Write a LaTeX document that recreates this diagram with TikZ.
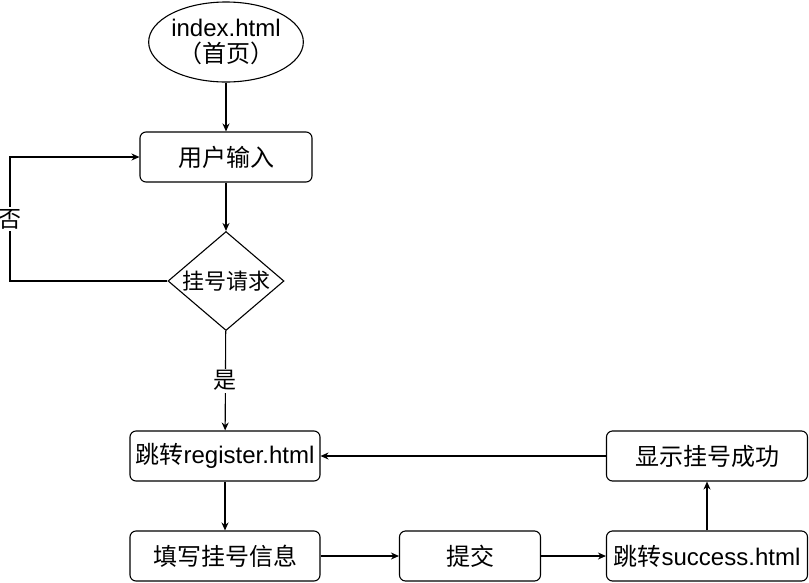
\documentclass[tikz,border=0pt]{standalone}
\usepackage{fontspec}
\setmainfont{Liberation Sans}
\newfontfamily\cjk{Noto Sans CJK SC}
\usetikzlibrary{shapes.geometric, arrows.meta, positioning}

\begin{document}
\begin{tikzpicture}[
    x=1pt, y=-1pt,
    line width=1.1pt,
    >={Stealth[length=8pt,width=7pt]},
    stepbox/.style={
        draw, rectangle, rounded corners=6pt,
        minimum width=#1, minimum height=50pt,
        inner sep=1pt,
        font=\fontsize{24}{28}\selectfont,
    },
    startnode/.style={
        draw, ellipse,
        minimum width=150pt, minimum height=80pt,
        inner sep=0pt, align=center,
        font=\fontsize{24}{26}\selectfont,
    },
    decision/.style={
        draw, diamond, aspect=1.17,
        minimum width=116pt, minimum height=99pt,
        inner sep=0pt,
        font=\fontsize{22}{26}\selectfont\cjk,
    },
    edgelabel/.style={
        fill=white, inner sep=2pt,
        font=\fontsize{23}{27}\selectfont\cjk,
    },
]
\useasboundingbox (0,0) rectangle (809,582);

\node[startnode] (home) at (226,42) {index.html\\{\cjk （首页）}};
\node[stepbox=172pt] (input) at (226,157) {\cjk 用户输入};
\node[decision] (req) at (226,281) {挂号请求};
\node[stepbox=190pt] (reg) at (225,456) {{\cjk 跳转}register.html};
\node[stepbox=190pt] (fill) at (225,556) {\cjk 填写挂号信息};
\node[stepbox=141pt] (submit) at (470,556) {\cjk 提交};
\node[stepbox=201pt] (succ) at (707,556) {{\cjk 跳转}success.html};
\node[stepbox=201pt] (show) at (707,456) {\cjk 显示挂号成功};
\coordinate (back) at (10,281);

% main flow
\draw[->] (home) -- (input);
\draw[->] (input) -- (req);
\draw[->] (req.west) -- (back) |- node[edgelabel, pos=0.25] {否} (input.west);
\draw[->] (req) -- node[edgelabel] {是} (reg);
\draw[->] (reg) -- (fill);
\draw[->] (fill) -- (submit);
\draw[->] (submit) -- (succ);
\draw[->] (succ) -- (show);
\draw[->] (show) -- (reg);

\end{tikzpicture}
\end{document}
